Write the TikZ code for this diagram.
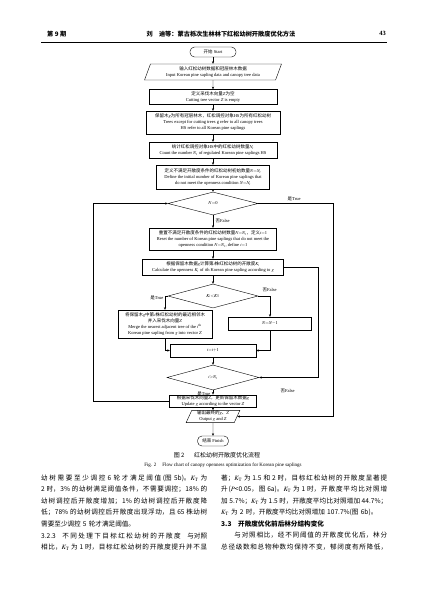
\documentclass[tikz,border=0pt]{standalone}
\usepackage{mathptmx}
\usepackage{fontspec}
\setmainfont{Liberation Serif}
\newfontfamily\cjk{Noto Sans CJK SC}
\usetikzlibrary{arrows.meta, positioning, calc, shapes.geometric}
\XeTeXlinebreaklocale "zh"
\XeTeXlinebreakskip = 0pt plus 1.5pt

\tikzset{
  flow/.style={draw, line width=0.4pt, inner sep=0.8pt, align=center,
               font=\fontsize{4.5}{6}\selectfont},
  term/.style={flow, rounded corners=4.5pt, minimum height=10pt},
  io/.style={flow, trapezium, trapezium left angle=70, trapezium right angle=110,
             trapezium stretches=true},
  dec/.style={flow, diamond, inner sep=0pt},
  lab/.style={inner sep=0.5pt, font=\fontsize{4.5}{5.5}\selectfont},
  arr/.style={-{Stealth[length=2.6pt, width=2.2pt]}, line width=0.4pt},
  body/.style={inner sep=0pt, anchor=west, text width=166pt,
               font=\cjk\fontsize{6.6}{8}\selectfont},
  bodyj/.style={body, align=justify,
                execute at begin node={\noindent\parfillskip=0pt\relax}},
  bodyl/.style={body, align=left},
}

\begin{document}
\begin{tikzpicture}[x=1pt, y=-1pt]
\fill[white] (0,0) rectangle (427,603);
\useasboundingbox (0,0) rectangle (427,603);

% page head
\node[anchor=west, inner sep=0pt, font=\cjk\bfseries\fontsize{6.2}{7}\selectfont] (hdl) at (47,34) {第 9 期};
\node[inner sep=0pt, font=\cjk\bfseries\fontsize{6.2}{7}\selectfont] (hdc) at (221,34) {刘　迪等：蒙古栎次生林林下红松幼树开敞度优化方法};
\node[anchor=east, inner sep=0pt, font=\bfseries\fontsize{6.4}{7}\selectfont] (hdr) at (386,33.5) {43};
\coordinate (hl) at (41,42.5);
\coordinate (hr) at (387,42.5);
\draw[line width=0.6pt] (hl) -- (hr);

% flow chart
\node[term, minimum width=46pt] (start) at (213,52) {{\cjk 开始} Start};
\node[io, minimum width=137pt, minimum height=16pt] (input) at (213,72)
  {{\cjk 输入红松幼树数据和冠层林木数据}\\Input Korean pine sapling data and canopy tree data};
\node[flow, minimum width=128pt, minimum height=15pt] (cut) at (213,97)
  {{\cjk 定义采伐木向量}$Z${\cjk 为空}\\Cutting tree vector $Z$ is empty};
\node[flow, minimum width=134pt, minimum height=23pt] (keep) at (213,122.5)
  {{\cjk 保留木}$g${\cjk 为所有冠层林木，红松调控对象}HS{\cjk 为所有红松幼树}\\
   Trees except for cutting trees g refer to all canopy trees\\HS refer to all Korean pine saplings};
\node[flow, minimum width=128pt, minimum height=16pt] (count) at (213,150)
  {{\cjk 统计红松调控对象}HS{\cjk 中的红松幼树数量}$N_t$\\Count the number $N_t$ of regulated Korean pine saplings HS};
\node[flow, minimum width=113pt, minimum height=24pt] (define) at (213,177)
  {{\cjk 定义不满足开敞度条件的红松幼树初始数量}$N{=}N_t$\\Define the initial number of Korean pine saplings that\\
   do not meet the openness condition $N{=}N_t$};
\node[dec, minimum width=90pt, minimum height=23pt] (n0) at (213,203.5) {$N{=}0$};
\node[flow, minimum width=127pt, minimum height=22pt] (reset) at (213,239)
  {{\cjk 重置不满足开敞度条件的红松幼树数量}$N{=}N_t${\cjk ，定义}$i{=}1$\\
   Reset the number of Korean pine saplings that do not meet the\\openness condition $N{=}N_t$, define $i{=}1$};
\node[flow, minimum width=141pt, minimum height=16pt] (calc) at (213,267)
  {{\cjk 根据保留木数据}$g${\cjk 计算第}$i${\cjk 株红松幼树的开敞度}$K_i$\\
   Calculate the openness $K_i$ of $i$th Korean pine sapling according to $g$};
\node[dec, minimum width=90pt, minimum height=24pt] (kd) at (213,296) {$K_i{<}K_{\mathrm T}$};
\node[flow, minimum width=94pt, minimum height=28pt] (merge) at (165,324)
  {{\cjk 将保留木}$g${\cjk 中第}$i${\cjk 株红松幼树的最近相邻木}\\{\cjk 并入采伐木向量}$Z$\\
   Merge the nearest adjacent tree of the $i^{\mathrm{th}}$\\Korean pine sapling from $g$ into vector $Z$};
\node[flow, minimum width=83pt, minimum height=13pt] (nm1) at (270,323.5) {$N{=}N{-}1$};
\node[flow, minimum width=86pt, minimum height=13pt] (inc) at (213,350.5) {$i{=}i{+}1$};
\node[dec, minimum width=92pt, minimum height=25pt] (idia) at (213,377.5) {$i{>}N_t$};
\node[flow, minimum width=87pt, minimum height=11pt] (update) at (213,401)
  {{\cjk 根据采伐木向量}$Z${\cjk ，更新保留木数据}$g$\\Update $g$ according to the vector $Z$};
\node[io, minimum width=54pt, minimum height=11pt] (output) at (213,416.5)
  {{\cjk 输出最终的}$g${\cjk 、}$Z$\\Output $g$ and $Z$};
\node[term, minimum width=31pt] (finish) at (213,441) {{\cjk 结束} Finish};

% loop corners
\coordinate (lft) at (93,0);
\coordinate (rgt) at (333,0);
\coordinate (mid) at (318,0);

\draw[arr] (start) -- (input);
\draw[arr] (input) -- (cut);
\draw[arr] (cut) -- (keep);
\draw[arr] (keep) -- (count);
\draw[arr] (count) -- (define);
\draw[arr] (define) -- (n0);
\draw[arr] (n0) -- (reset);
\draw[arr] (reset) -- (calc);
\draw[arr] (calc) -- (kd);
\draw[arr] (kd.west) -| (merge.north);
\draw[arr] (kd.east) -| (nm1.north);
\draw[arr] (merge.south) |- (inc.west);
\draw[arr] (nm1.south) |- (inc.east);
\draw[arr] (inc) -- (idia);
\draw[arr] (idia) -- (update);
\draw[arr] (update) -- (output);
\draw[arr] (output) -- (finish);
\draw[arr] (update.west) -| (lft |- n0.west) -- (n0.west);
\draw[arr] (n0.east) -| (rgt |- output.east) -- (output.east);
\draw[arr] (calc.east) -| (mid |- idia.east) -- (idia.east);

% branch labels
\node[lab, anchor=south west] (t1) at (287,202) {{\cjk 是}True};
\node[lab, anchor=west] (f1) at (215,220.5) {{\cjk 否}False};
\node[lab, anchor=east] (t2) at (164,297.5) {{\cjk 是}True};
\node[lab, anchor=west] (f2) at (262,290) {{\cjk 否}False};
\node[lab, anchor=east] (t3) at (211,393.5) {{\cjk 是}True};
\node[lab, anchor=west] (f3) at (280,391) {{\cjk 否}False};

% caption
\node[inner sep=0pt, font=\cjk\fontsize{6}{7}\selectfont] (capcn) at (217,455) {图 2\hspace{1.6em}红松幼树开敞度优化流程};
\node[inner sep=0pt, font=\fontsize{5}{6}\selectfont] (capen) at (223,465.5) {Fig. 2\hspace{1.2em}Flow chart of canopy openness optimization for Korean pine saplings};

% text, left column
\node[bodyj] (l1) at (41,478) {幼树需要至少调控 6 轮才满足阈值(图 5b)。$K_{\mathrm T}$ 为};
\node[bodyj] (l2) at (41,489.5) {2 时，3\% 的幼树满足阈值条件，不需要调控；18\% 的};
\node[bodyj] (l3) at (41,501) {幼树调控后开敞度增加；1\% 的幼树调控后开敞度降};
\node[bodyj] (l4) at (41,512.5) {低；78\% 的幼树调控后开敞度出现浮动，且 65 株幼树};
\node[bodyl] (l5) at (41,524) {需要至少调控 5 轮才满足阈值。};
\node[bodyj] (l6) at (41,535.5) {3.2.3\hspace{1em}不 同 处 理 下 目 标 红 松 幼 树 的 开 敞 度\hspace{1em}与对照};
\node[bodyj] (l7) at (41,547) {相比，$K_{\mathrm T}$ 为 1 时，目标红松幼树的开敞度提升并不显};

% text, right column
\node[bodyj] (r1) at (221,478) {著；$K_{\mathrm T}$ 为 1.5 和 2 时，目标红松幼树的开敞度显著提};
\node[bodyj] (r2) at (221,489.5) {升($P$<0.05，图 6a)。$K_{\mathrm T}$ 为 1 时，开敞度平均比对照增};
\node[bodyj] (r3) at (221,501) {加 5.7\%；$K_{\mathrm T}$ 为 1.5 时，开敞度平均比对照增加 44.7\%；};
\node[bodyl] (r4) at (221,512.5) {$K_{\mathrm T}$ 为 2 时，开敞度平均比对照增加 107.7\%(图 6b)。};
\node[bodyl, font=\cjk\bfseries\fontsize{6.6}{8}\selectfont] (r5) at (221,524) {3.3\hspace{1em}开敞度优化前后林分结构变化};
\node[bodyj] (r6) at (221,535.5) {\hspace*{2em}与对照相比，经不同阈值的开敞度优化后，林分};
\node[bodyj] (r7) at (221,547) {总径级数和总物种数均保持不变，郁闭度有所降低，};
\end{tikzpicture}
\end{document}
